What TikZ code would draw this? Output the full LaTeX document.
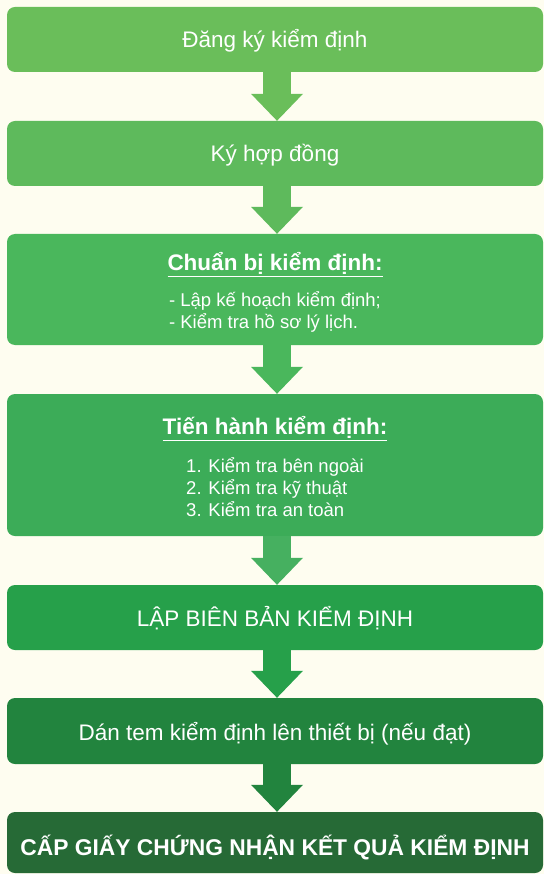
\documentclass[tikz,border=0pt]{standalone}
\usepackage{fontspec}
\setmainfont{Liberation Sans}
\usepackage{xcolor}
\usepackage{tikz}
\usetikzlibrary{positioning}
\usetikzlibrary{arrows.meta, calc}
\definecolor{bgcream}{HTML}{FEFDF0}
\definecolor{gone}{HTML}{6ABE5A}
\definecolor{gtwo}{HTML}{5EBA5C}
\definecolor{gthree}{HTML}{4AB75C}
\definecolor{gfour}{HTML}{3CAC58}
\definecolor{gfive}{HTML}{26A04A}
\definecolor{gsix}{HTML}{22843E}
\definecolor{gseven}{HTML}{266A36}
\tikzstyle{stage} = [rectangle, rounded corners=8pt, minimum width=536pt, inner sep=0pt, text=white, text depth=0pt, font=\fontsize{22.5}{27}\selectfont]
\tikzstyle{stagelist} = [stage, align=center, text depth=, text height=]
\tikzstyle{flow} = [line width=28pt, -{Triangle[width=52pt,length=27pt,line width=0pt]}]

\begin{document}
\begin{tikzpicture}[x=1pt,y=1pt]
\fill [bgcream] (0,0) rectangle (544,-874);
\useasboundingbox (0,0) rectangle (544,-874);
\draw (275,-39.5) node (s1) [stage, fill=gone, minimum height=65pt, text height=17pt] {Đăng ký kiểm định};
\draw (275,-153.5) node (s2) [stage, fill=gtwo, minimum height=65pt, text height=16.5pt] {Ký hợp đồng};
\draw (275,-289.5) node (s3) [stagelist, fill=gthree, minimum height=111pt] {\rule{0pt}{27pt}{\bfseries\underline{Chuẩn bị kiểm định:}}\\[13pt]
  {\fontsize{18.5}{22}\selectfont\begin{tabular}{@{}l@{}}- Lập kế hoạch kiểm định;\\- Kiểm tra hồ sơ lý lịch.\end{tabular}}};
\draw (275,-465) node (s4) [stagelist, fill=gfour, minimum height=142pt] {\rule{0pt}{28pt}{\bfseries\underline{Tiến hành kiểm định:}}\\[15pt]
  {\fontsize{18.5}{22}\selectfont\begin{tabular}{@{}l@{}}1. Kiểm tra bên ngoài\\2. Kiểm tra kỹ thuật\\3. Kiểm tra an toàn\end{tabular}}};
\draw (275,-617.5) node (s5) [stage, fill=gfive, minimum height=65pt, text height=18.5pt] {LẬP BIÊN BẢN KIỂM ĐỊNH};
\draw (275,-731) node (s6) [stage, fill=gsix, minimum height=66pt, text height=19.5pt] {Dán tem kiểm định lên thiết bị (nếu đạt)};
\draw (275,-842.5) node (s7) [stage, fill=gseven, minimum height=61pt, text height=25pt, font=\fontsize{22.8}{27}\selectfont\bfseries] {CẤP GIẤY CHỨNG NHẬN KẾT QUẢ KIỂM ĐỊNH};
\draw [flow, gone] ($(s1.south)+(2,0)$) -- ($(s2.north)+(2,0)$);
\draw [flow, gtwo] ($(s2.south)+(2,0)$) -- ($(s3.north)+(2,0)$);
\draw [flow, gthree] ($(s3.south)+(2,0)$) -- ($(s4.north)+(2,0)$);
\draw [flow, gfour!95!white] ($(s4.south)+(2,0)$) -- ($(s5.north)+(2,0)$);
\draw [flow, gfive] ($(s5.south)+(2,0)$) -- ($(s6.north)+(2,0)$);
\draw [flow, gsix] ($(s6.south)+(2,0)$) -- ($(s7.north)+(2,0)$);
\end{tikzpicture}
\end{document}
